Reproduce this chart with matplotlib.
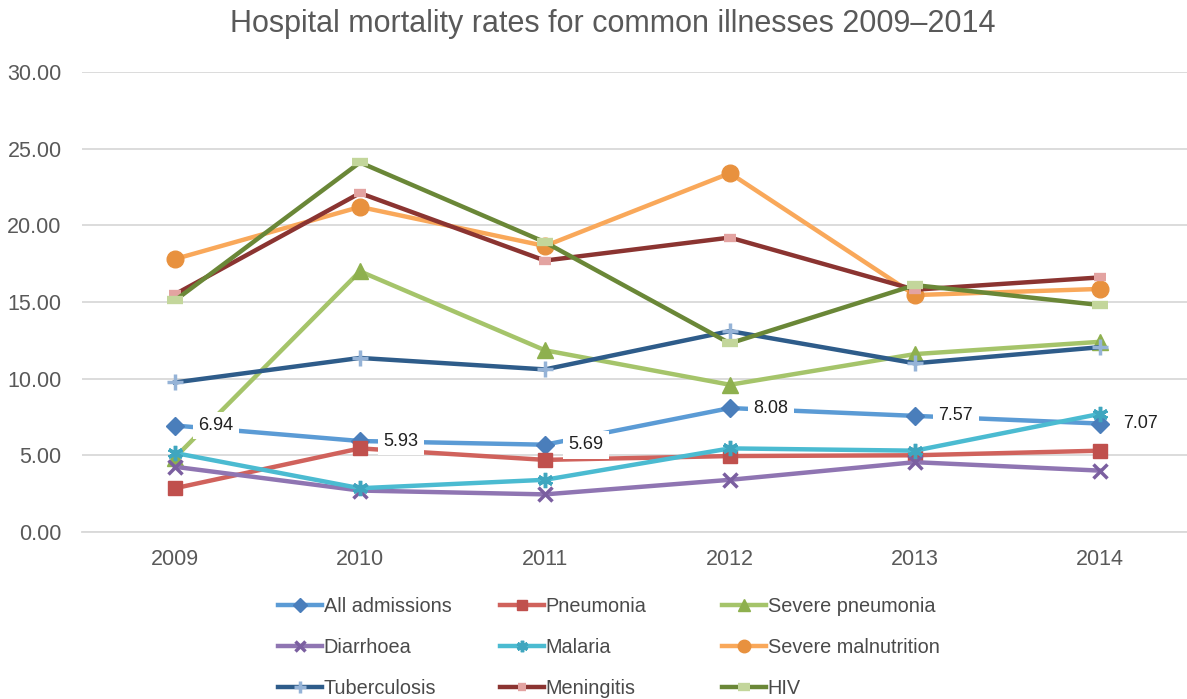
import matplotlib
matplotlib.use("Agg")
import matplotlib.pyplot as plt

plt.rcParams['font.family'] = ['Liberation Sans', 'DejaVu Sans']

years = ["2009", "2010", "2011", "2012", "2013", "2014"]

all_admissions = [6.94, 5.93, 5.69, 8.08, 7.57, 7.07]
pneumonia = [2.85, 5.45, 4.7, 4.95, 5.0, 5.3]
severe_pneumonia = [4.85, 17.0, 11.85, 9.6, 11.6, 12.4]
diarrhoea = [4.25, 2.7, 2.45, 3.4, 4.55, 4.0]
malaria = [5.15, 2.85, 3.4, 5.45, 5.3, 7.7]
severe_malnutrition = [17.8, 21.2, 18.65, 23.4, 15.45, 15.85]
tuberculosis = [9.75, 11.35, 10.6, 13.1, 11.0, 12.05]
meningitis = [15.5, 22.1, 17.7, 19.2, 15.8, 16.6]
hiv = [15.1, 24.1, 18.9, 12.3, 16.1, 14.8]

# label, values, line colour, marker, marker colour, marker size, edge width
series = [
    ("All admissions", all_admissions, "#5B9BD5", "D", "#4A7EBB", 9, 1),
    ("Pneumonia", pneumonia, "#D0625C", "s", "#C0504D", 10, 1),
    ("Severe pneumonia", severe_pneumonia, "#A5C46A", "^", "#8EB04E", 11, 1),
    ("Diarrhoea", diarrhoea, "#8F75B2", "x", "#7B5FA0", 10, 2.5),
    ("Malaria", malaria, "#4BBBD1", (6, 2, 0), "#3FA6BF", 11, 2.5),
    ("Severe malnutrition", severe_malnutrition, "#F9A85A", "o", "#E8913E", 12, 1),
    ("Tuberculosis", tuberculosis, "#2E5C8A", "+", "#95B3D7", 12, 2.5),
    ("Meningitis", meningitis, "#8B3431", "_", "#E3A3A1", 8, 6),
    ("HIV", hiv, "#6A8737", "_", "#C3D69B", 11, 6),
]

fig = plt.figure(figsize=(11.87, 6.99), dpi=100)
ax = fig.add_axes([0.0695, 0.239, 0.935, 0.658])

x = list(range(len(years)))
handles = []
for name, vals, col, mk, mcol, ms, mew in series:
    ln, = ax.plot(x, vals, color=col, lw=3.2, marker=mk, markersize=ms,
                  markerfacecolor=mcol, markeredgecolor=mcol, markeredgewidth=mew,
                  label=name, zorder=3)
    handles.append(ln)

for xi, v in zip(x, all_admissions):
    ax.annotate(f"{v:.2f}", (xi, v), xytext=(17, 0), textcoords="offset points",
                ha="left", va="center", fontsize=13, color="#202020",
                bbox=dict(boxstyle="square,pad=0.3", fc="white", ec="none"),
                zorder=4)

ax.set_xlim(-0.5, 5.5)
ax.set_ylim(0, 30)
ax.set_yticks([0, 5, 10, 15, 20, 25, 30])
ax.set_yticklabels([f"{t:.2f}" for t in [0, 5, 10, 15, 20, 25, 30]])
ax.set_xticks(x)
ax.set_xticklabels(years)
ax.tick_params(axis="both", length=0, labelsize=15.5, colors="#595959")
ax.tick_params(axis="x", pad=12)
ax.tick_params(axis="y", pad=15)
ax.grid(axis="y", color="#D9D9D9", lw=1.3)
ax.set_axisbelow(True)
for s in ["top", "right", "left"]:
    ax.spines[s].set_visible(False)
ax.spines["bottom"].set_color("#D9D9D9")
ax.spines["bottom"].set_linewidth(1.3)

fig.text(0.516, 0.965, "Hospital mortality rates for common illnesses 2009\u20132014",
         fontsize=22, color="#595959", ha="center", va="center")

# Excel-style legend: three fixed-width columns, filled row by row
col_x = [0.2342, 0.4212, 0.6083]
for c in range(3):
    hs = handles[c::3]
    fig.legend(hs, [h.get_label() for h in hs], loc="upper left",
               bbox_to_anchor=(col_x[c], 0.1455), frameon=False, fontsize=14.3,
               handlelength=2.2, handletextpad=0.1, labelspacing=1.1,
               borderpad=0, borderaxespad=0, labelcolor="#4A4A4A",
               numpoints=1, markerscale=0.75)

fig.savefig("out.png", dpi=100)
